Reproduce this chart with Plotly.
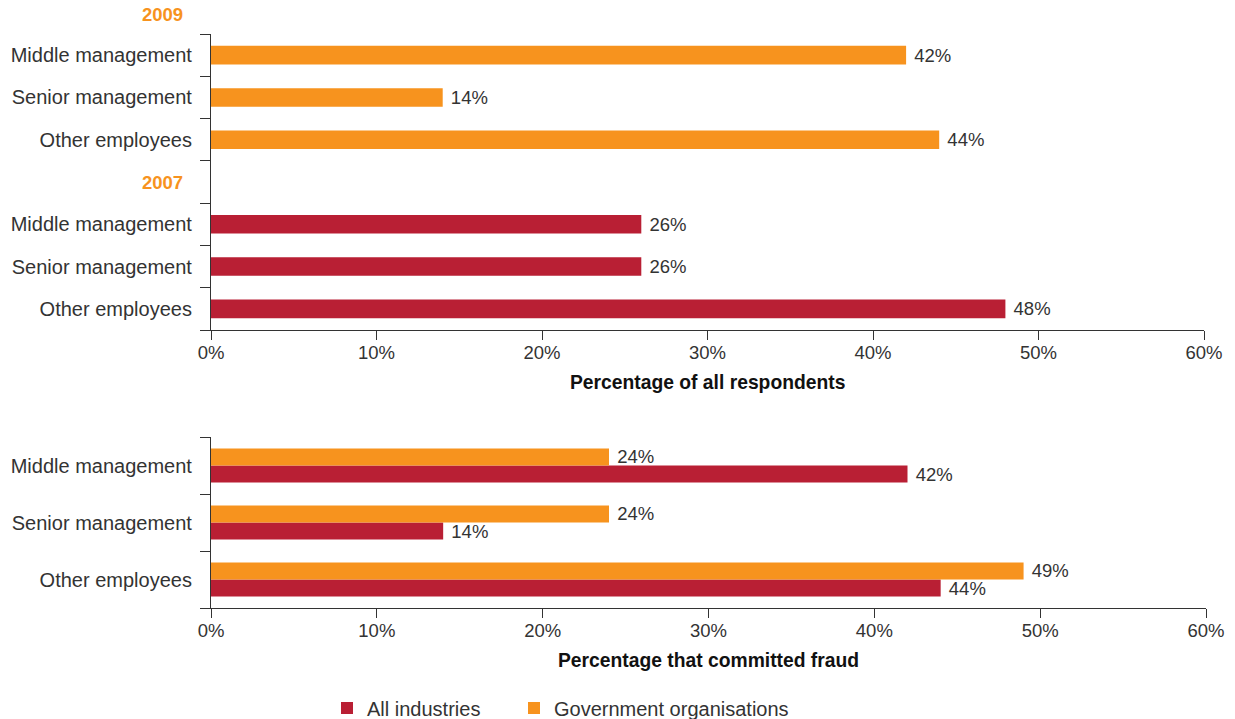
import plotly.graph_objects as go

ORANGE = "#F7931E"
RED = "#B91F34"
TEXT = "#333333"
TITLE = "#111111"
FONT = "Liberation Sans, Arial, Helvetica, sans-serif"

W, H = 1235, 719

# ---- data -------------------------------------------------------------
roles = ["Middle management", "Senior management", "Other employees"]

# upper panel: share of all respondents by level, two survey years
year_2009 = [42, 14, 44]
year_2007 = [26, 26, 48]
year_labels = ["2009", "2007"]

# lower panel: share of perpetrators by level
fraud_all_industries = [42, 14, 44]
fraud_government = [24, 24, 49]

x_ticks = [0, 10, 20, 30, 40, 50, 60]
x_tick_text = [f"{v}%" for v in x_ticks]

series_names = ["All industries", "Government organisations"]

# ---- category positions (bottom-up on the numeric y axes) -------------
n = len(roles)
# upper panel: [2009 header] 2009 roles, [2007 header] 2007 roles
pos_2007 = [n - 1 - i for i in range(n)]            # 2, 1, 0
pos_2007_header = n                                # 3
pos_2009 = [2 * n - i for i in range(n)]           # 6, 5, 4
upper_ticks = pos_2009 + pos_2007
upper_tick_text = roles + roles
# lower panel
pos_lower = [n - 1 - i for i in range(n)]

fig = go.Figure()

label_font = dict(family=FONT, size=18.5, color=TEXT)
nb = "\u00a0"

# upper panel bars
fig.add_trace(go.Bar(
    y=pos_2009, x=year_2009, orientation="h",
    marker=dict(color=ORANGE, line=dict(width=0)),
    width=0.44, offset=-0.22,
    text=[f"{nb}{v}%" for v in year_2009], textposition="outside",
    textfont=label_font, constraintext="none", cliponaxis=False,
    showlegend=False, xaxis="x", yaxis="y", hoverinfo="skip",
))
fig.add_trace(go.Bar(
    y=pos_2007, x=year_2007, orientation="h",
    marker=dict(color=RED, line=dict(width=0)),
    width=0.44, offset=-0.22,
    text=[f"{nb}{v}%" for v in year_2007], textposition="outside",
    textfont=label_font, constraintext="none", cliponaxis=False,
    showlegend=False, xaxis="x", yaxis="y", hoverinfo="skip",
))

# lower panel grouped bars (first trace sits lower in each group)
fig.add_trace(go.Bar(
    y=pos_lower, x=fraud_all_industries, orientation="h", name=series_names[0],
    marker=dict(color=RED, line=dict(width=0)),
    text=[f"{nb}{v}%" for v in fraud_all_industries], textposition="outside",
    textfont=label_font, constraintext="none", cliponaxis=False,
    xaxis="x2", yaxis="y2", hoverinfo="skip", legend="legend",
))
fig.add_trace(go.Bar(
    y=pos_lower, x=fraud_government, orientation="h", name=series_names[1],
    marker=dict(color=ORANGE, line=dict(width=0)),
    text=[f"{nb}{v}%" for v in fraud_government], textposition="outside",
    textfont=label_font, constraintext="none", cliponaxis=False,
    xaxis="x2", yaxis="y2", hoverinfo="skip", legend="legend2",
))

axis_common = dict(
    showline=True, linecolor=TEXT, linewidth=1.2,
    showgrid=False, zeroline=False, fixedrange=True, automargin=False,
)

x_axis = dict(
    range=[0, 60], tickmode="array", tickvals=x_ticks, ticktext=x_tick_text,
    ticks="outside", ticklen=9, tickwidth=1.2, tickcolor=TEXT,
    ticklabelstandoff=-3,
    tickfont=dict(family=FONT, size=18.5, color=TEXT),
    **axis_common,
)

def y_axis(rng, tickvals, ticktext, domain, anchor):
    return dict(
        domain=domain, anchor=anchor, range=rng,
        tickmode="array", tickvals=tickvals, ticktext=ticktext,
        ticks="outside", ticklen=10, tickcolor="rgba(0,0,0,0)",
        ticklabelstandoff=4,
        tickfont=dict(family=FONT, size=20, color=TEXT),
        minor=dict(tickmode="linear", tick0=0.5, dtick=1, ticks="outside",
                   ticklen=10, tickwidth=1.2, tickcolor=TEXT, showgrid=False),
        **axis_common,
    )

legend_style = dict(
    orientation="h", xanchor="left", y=11 / H, yanchor="middle",
    font=dict(family=FONT, size=20, color=TEXT), bgcolor="rgba(0,0,0,0)",
)

fig.update_layout(
    width=W, height=H,
    margin=dict(l=0, r=0, t=0, b=0, autoexpand=False),
    paper_bgcolor="white", plot_bgcolor="white",
    font=dict(family=FONT, size=18.5, color=TEXT),
    barmode="group", bargap=0.4, bargroupgap=0,
    xaxis=dict(domain=[211 / W, 1204 / W], anchor="y", **x_axis),
    yaxis=y_axis([-0.5, 2 * n + 0.5], upper_ticks, upper_tick_text,
                 [1 - 330 / H, 1 - 34 / H], "x"),
    xaxis2=dict(domain=[211 / W, 1206 / W], anchor="y2", **x_axis),
    yaxis2=y_axis([-0.5, n - 0.5], pos_lower, roles,
                  [1 - 608 / H, 1 - 437 / H], "x2"),
    legend=dict(x=327 / W, **legend_style),
    legend2=dict(x=514 / W, **legend_style),
    showlegend=True,
)

header_font = dict(family=FONT, size=18.5, color=ORANGE)
fig.add_annotation(
    text=f"<b>{year_labels[0]}</b>", xref="x domain", x=0, xanchor="right", xshift=-26,
    yref="y domain", y=1, yanchor="middle", yshift=20, showarrow=False, font=header_font,
)
fig.add_annotation(
    text=f"<b>{year_labels[1]}</b>", xref="x domain", x=0, xanchor="right", xshift=-26,
    yref="y", y=pos_2007_header, yanchor="middle", showarrow=False, font=header_font,
)

title_font = dict(family=FONT, size=19.3, color=TITLE)
fig.add_annotation(
    text="<b>Percentage of all respondents</b>", xref="x domain", x=0.5,
    yref="y domain", y=0, yanchor="middle", yshift=-53, showarrow=False, font=title_font,
)
fig.add_annotation(
    text="<b>Percentage that committed fraud</b>", xref="x2 domain", x=0.5,
    yref="y2 domain", y=0, yanchor="middle", yshift=-52, showarrow=False, font=title_font,
)

fig.write_html("out.html")
